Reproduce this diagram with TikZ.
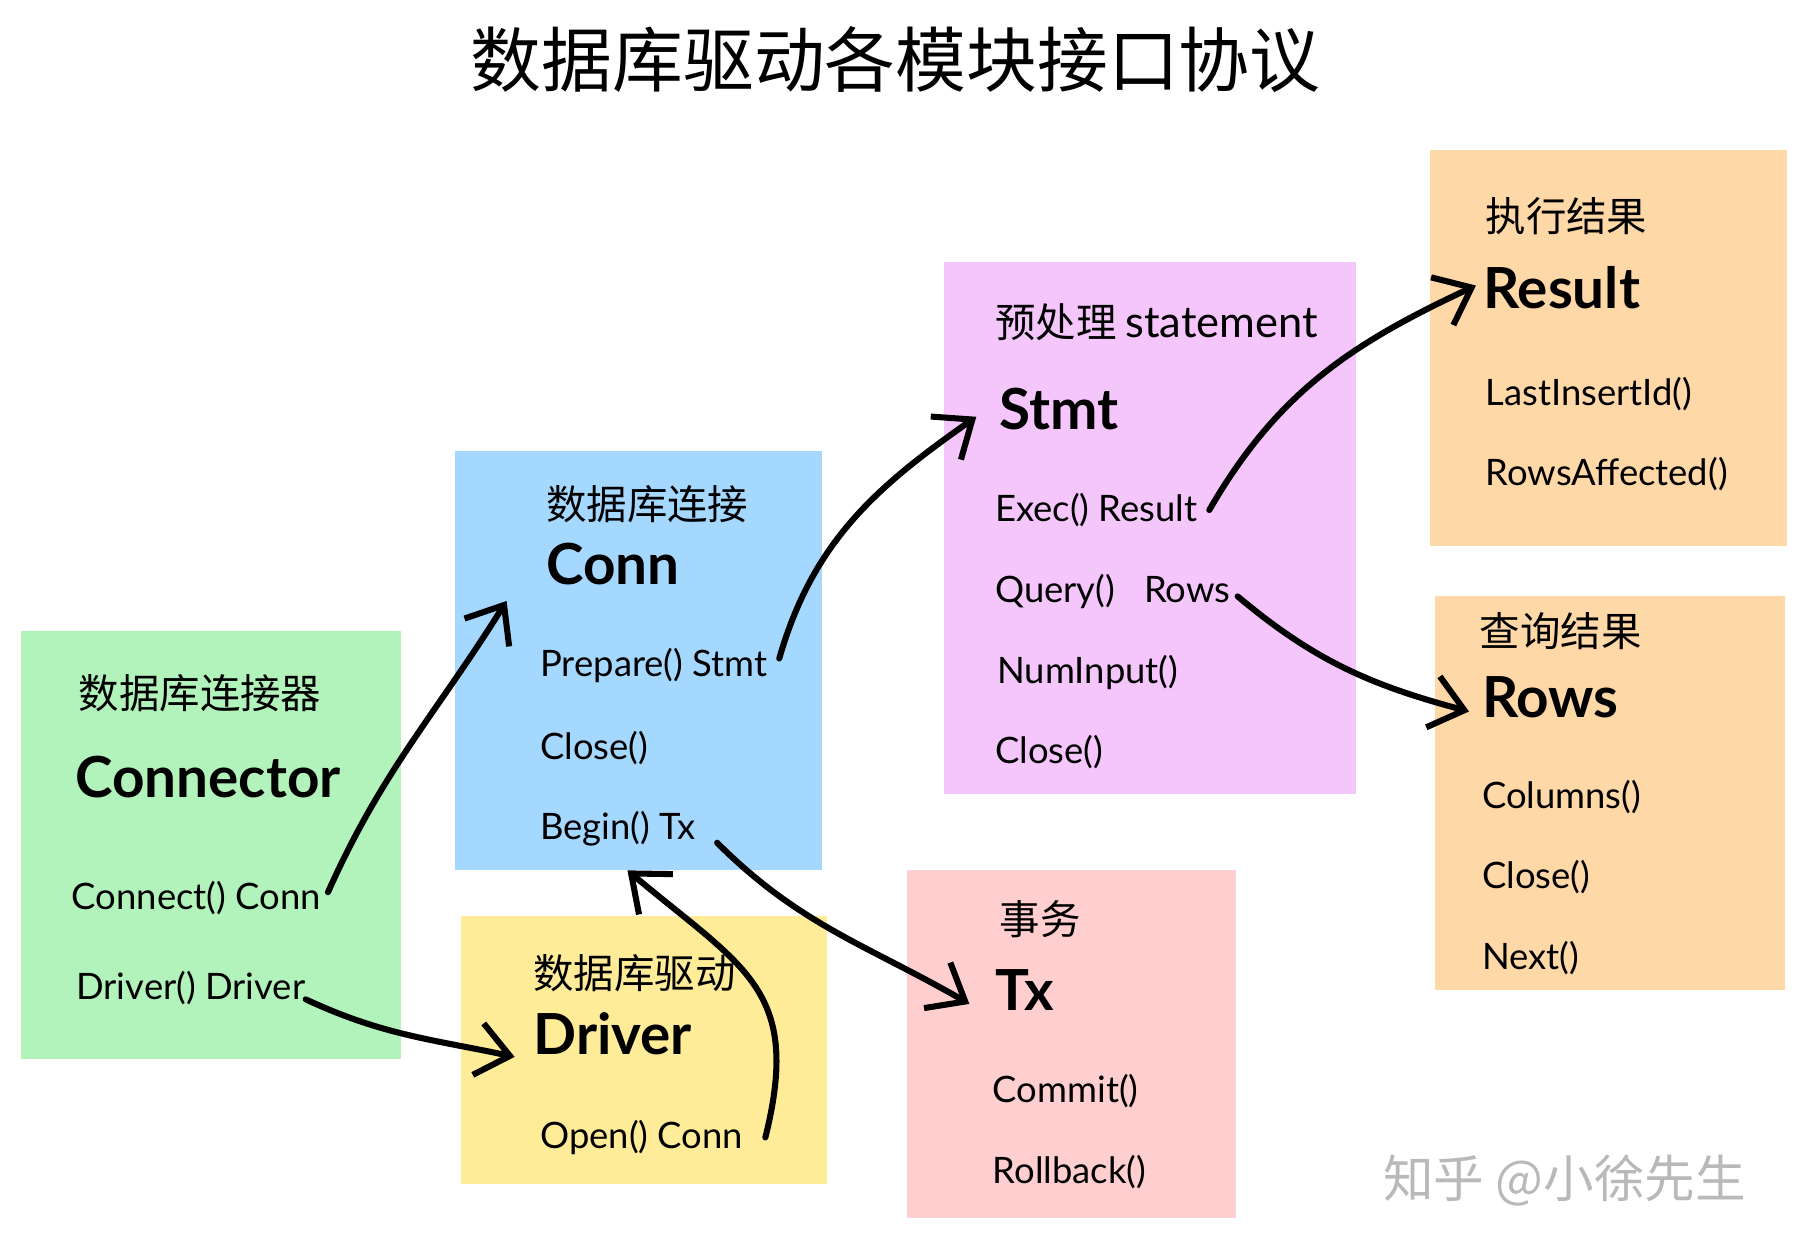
\documentclass[tikz,border=0pt]{standalone}
\usepackage{fontspec}
\setmainfont{Lato}
\newfontfamily\cjk{Noto Sans CJK SC}
\usetikzlibrary{arrows.meta}

\definecolor{cgreen}{HTML}{B2F2BB}
\definecolor{cblue}{HTML}{A5D8FF}
\definecolor{cyellow}{HTML}{FFEC99}
\definecolor{cpink}{HTML}{F5C6FB}
\definecolor{cred}{HTML}{FFCFCF}
\definecolor{corange}{HTML}{FFD8A8}

\begin{document}
\begin{tikzpicture}[x=0.02cm,y=-0.02cm,
  head/.style={anchor=west,inner sep=0pt,font=\cjk\fontsize{20}{24}\selectfont},
  big/.style={anchor=west,inner sep=0pt,font=\bfseries\fontsize{28}{32}\selectfont},
  fn/.style={anchor=west,inner sep=0pt,font=\fontsize{18}{21}\selectfont},
  link/.style={line width=3pt,line cap=round,
    -{Straight Barb[length=16pt,width=26pt,line width=3pt]}}]
\useasboundingbox[fill=white] (0,0) rectangle (1560,1084);
\node[font=\cjk\fontsize{35}{40}\selectfont] (title) at (778,52) {数据库驱动各模块接口协议};

% cards
\fill[cgreen] (18,548) rectangle (348,920);
\fill[cblue] (395,392) rectangle (714,756);
\fill[cyellow] (400,796) rectangle (718,1028);
\fill[cpink] (820,228) rectangle (1178,690);
\fill[cred] (788,756) rectangle (1074,1058);
\fill[corange] (1242,130) rectangle (1552,474);
\fill[corange] (1246,518) rectangle (1550,860);

% Connector
\node[head] (connectorhd) at (68,602) {数据库连接器};
\node[big] (connector) at (65,675) {Connector};
\node[fn] (cconn) at (62,780) {Connect() Conn};
\node[fn] (cdrv) at (66,858) {Driver() Driver};

% Conn
\node[head] (connhd) at (474,438) {数据库连接};
\node[big] (conn) at (474,490) {Conn};
\node[fn] (prep) at (469,578) {Prepare() Stmt};
\node[fn] (connclose) at (469,650) {Close()};
\node[fn] (begin) at (469,720) {Begin() Tx};

% Driver
\node[head] (drvhd) at (463,845) {数据库驱动};
\node[big] (drv) at (463,898) {Driver};
\node[fn] (open) at (469,988) {Open() Conn};

% Stmt
\node[head] (stmthd) at (864,280) {预处理 \normalfont\fontsize{21.5}{25}\selectfont statement};
\node[big] (stmt) at (868,355) {Stmt};
\node[fn] (exec) at (864,443) {Exec() Result};
\node[fn] (query) at (864,514) {Query()\hspace{0.8em}Rows};
\node[fn] (numin) at (866,584) {NumInput()};
\node[fn] (stmtclose) at (864,653) {Close()};

% Tx
\node[head] (txhd) at (868,798) {事务};
\node[big] (tx) at (864,860) {Tx};
\node[fn] (commit) at (862,948) {Commit()};
\node[fn] (rollback) at (862,1018) {Rollback()};

% Result
\node[head] (reshd) at (1290,188) {执行结果};
\node[big] (res) at (1288,250) {Result};
\node[fn] (lastid) at (1290,342) {LastInsertId()};
\node[fn] (affected) at (1290,412) {RowsAffected()};

% Rows
\node[head] (rowshd) at (1285,548) {查询结果};
\node[big] (rows) at (1287,606) {Rows};
\node[fn] (columns) at (1287,692) {Columns()};
\node[fn] (rowsclose) at (1287,762) {Close()};
\node[fn] (next) at (1287,832) {Next()};

\node[font=\cjk\fontsize{25}{30}\selectfont,text=gray!55] (mark) at (1359,1025) {知乎 @小徐先生};

% arrows
\draw[link] ([shift={(6,-5)}]cconn.east) to[out=66,in=238] ([shift={(-34,32)}]conn.west);
\draw[link] ([shift={(0,10)}]cdrv.east) to[out=-25,in=168] ([shift={(-16,20)}]drv.west);
\draw[link] ([shift={(10,-6)}]prep.east) to[out=74,in=215] ([shift={(-20,7)}]stmt.west);
\draw[link] ([shift={(10,0)}]exec.east) to[out=60,in=205] ([shift={(-6,-2)}]res.west);
\draw[link] ([shift={(6,4)}]query.east) to[out=-40,in=165] ([shift={(-11,12)}]rows.west);
\draw[link] ([shift={(18,12)}]begin.east) to[out=-45,in=150] ([shift={(-22,12)}]tx.west);
\draw[link] ([shift={(19,0)}]open.east) to[out=76,in=-40,looseness=1.3] ([shift={(76,36)}]begin.west);
\end{tikzpicture}
\end{document}
